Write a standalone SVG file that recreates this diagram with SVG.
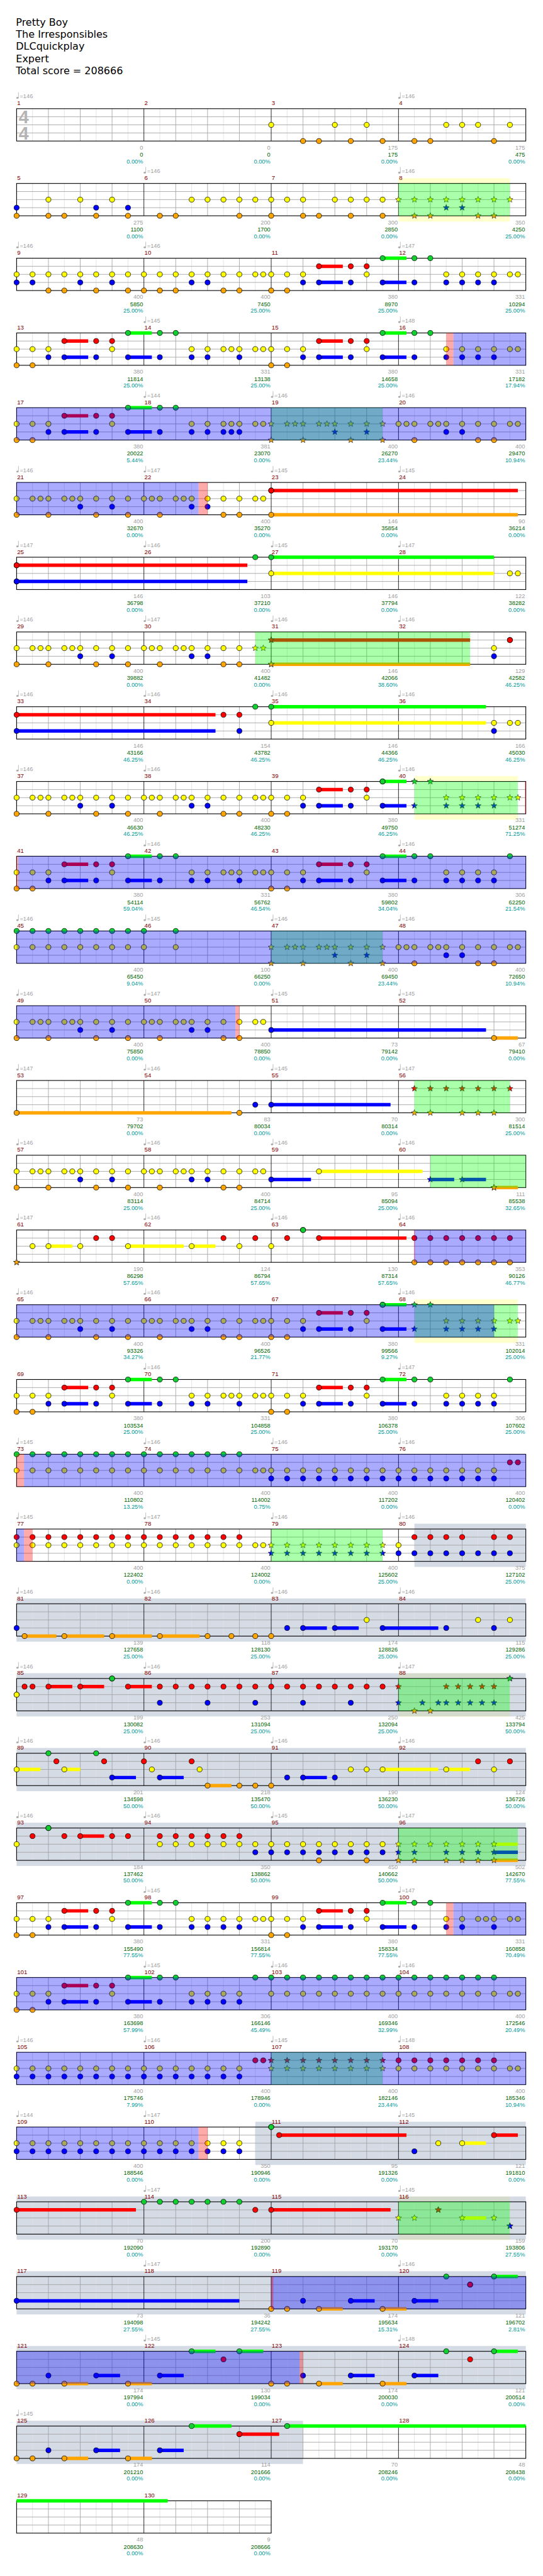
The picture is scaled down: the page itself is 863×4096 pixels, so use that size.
<svg xmlns="http://www.w3.org/2000/svg" xmlns:xlink="http://www.w3.org/1999/xlink" width="863" height="4096" viewBox="0 0 863 4096">
<style>
.n{fill:none;stroke:none}
.nG{marker-start:url(#mG);marker-mid:url(#mG);marker-end:url(#mG)}
.nR{marker-start:url(#mR);marker-mid:url(#mR);marker-end:url(#mR)}
.nY{marker-start:url(#mY);marker-mid:url(#mY);marker-end:url(#mY)}
.nB{marker-start:url(#mB);marker-mid:url(#mB);marker-end:url(#mB)}
.nO{marker-start:url(#mO);marker-mid:url(#mO);marker-end:url(#mO)}
.nGs{marker-start:url(#sGs);marker-mid:url(#sGs);marker-end:url(#sGs)}
.nRs{marker-start:url(#sRs);marker-mid:url(#sRs);marker-end:url(#sRs)}
.nYs{marker-start:url(#sYs);marker-mid:url(#sYs);marker-end:url(#sYs)}
.nBs{marker-start:url(#sBs);marker-mid:url(#sBs);marker-end:url(#sBs)}
.nOs{marker-start:url(#sOs);marker-mid:url(#sOs);marker-end:url(#sOs)}
.sG,.sR,.sY,.sB,.sO{fill:none;stroke-width:6.5}
.sG{stroke:#00ff00}.sR{stroke:#ff0000}.sY{stroke:#ffff00}.sB{stroke:#0000ff}.sO{stroke:#ffa500}
.og{fill:#00ff00;fill-opacity:.333}.ob{fill:#0000ff;fill-opacity:.333}.op{fill:#ff0000;fill-opacity:.333}
.by{fill:#ffffcc}.bg{fill:#aab7cc;fill-opacity:.5}
.mn{fill:#800000;font-size:11.5px}
.tp{fill:#a0a0a0}
.s1{fill:#a0a0a0;text-anchor:end}
.s2{fill:#006400;text-anchor:end}
.s3{fill:#009999;text-anchor:end}
.hd{font-family:"DejaVu Sans",Verdana,sans-serif;font-size:19px;fill:#000}
.ts{font-size:34px;font-weight:bold;fill:#b4b4b4}
</style>
<defs>
<marker id="mG" markerUnits="userSpaceOnUse" markerWidth="14" markerHeight="14" viewBox="-7 -7 14 14" overflow="visible"><circle r="4.8" fill="#10d030" stroke="#000" stroke-width=".9"/></marker>
<marker id="mR" markerUnits="userSpaceOnUse" markerWidth="14" markerHeight="14" viewBox="-7 -7 14 14" overflow="visible"><circle r="4.8" fill="#ff0000" stroke="#000" stroke-width=".9"/></marker>
<marker id="mY" markerUnits="userSpaceOnUse" markerWidth="14" markerHeight="14" viewBox="-7 -7 14 14" overflow="visible"><circle r="4.8" fill="#ffff00" stroke="#000" stroke-width=".9"/></marker>
<marker id="mB" markerUnits="userSpaceOnUse" markerWidth="14" markerHeight="14" viewBox="-7 -7 14 14" overflow="visible"><circle r="4.8" fill="#0000ff" stroke="#000" stroke-width=".9"/></marker>
<marker id="mO" markerUnits="userSpaceOnUse" markerWidth="14" markerHeight="14" viewBox="-7 -7 14 14" overflow="visible"><circle r="4.8" fill="#ffa500" stroke="#000" stroke-width=".9"/></marker>
<path id="star" d="M0-6L1.53-2.1L5.71-1.85L2.47.8L3.53 4.85L0 2.6L-3.53 4.85L-2.47.8L-5.71-1.85L-1.53-2.1Z"/>
<marker id="sGs" markerUnits="userSpaceOnUse" markerWidth="14" markerHeight="14" viewBox="-7 -7 14 14" overflow="visible"><use href="#star" fill="#10d030" stroke="#222" stroke-width=".8"/></marker>
<marker id="sRs" markerUnits="userSpaceOnUse" markerWidth="14" markerHeight="14" viewBox="-7 -7 14 14" overflow="visible"><use href="#star" fill="#ff0000" stroke="#222" stroke-width=".8"/></marker>
<marker id="sYs" markerUnits="userSpaceOnUse" markerWidth="14" markerHeight="14" viewBox="-7 -7 14 14" overflow="visible"><use href="#star" fill="#ffff00" stroke="#222" stroke-width=".8"/></marker>
<marker id="sBs" markerUnits="userSpaceOnUse" markerWidth="14" markerHeight="14" viewBox="-7 -7 14 14" overflow="visible"><use href="#star" fill="#0000ff" stroke="#222" stroke-width=".8"/></marker>
<marker id="sOs" markerUnits="userSpaceOnUse" markerWidth="14" markerHeight="14" viewBox="-7 -7 14 14" overflow="visible"><use href="#star" fill="#ffa500" stroke="#222" stroke-width=".8"/></marker>
<rect id="sf" width="960" height="61" fill="#fff"/>
<g id="sg" fill="none">
<path d="M30 0V61M90 0V61M150 0V61M210 0V61M270 0V61M330 0V61M390 0V61M450 0V61M510 0V61M570 0V61M630 0V61M690 0V61M750 0V61M810 0V61M870 0V61M930 0V61" stroke="#e0e0e0"/>
<path d="M60 0V61M120 0V61M180 0V61M300 0V61M360 0V61M420 0V61M540 0V61M600 0V61M660 0V61M780 0V61M840 0V61M900 0V61M0 15.25H960M0 30.5H960M0 45.75H960" stroke="#a0a0a0"/>
<path d="M240 0V61M480 0V61M720 0V61" stroke="#000"/>
<rect width="960" height="61" stroke="#000" stroke-width="1.3"/>
</g>
<rect id="sf2" width="480" height="61" fill="#fff"/>
<g id="sg2" fill="none">
<path d="M30 0V61M90 0V61M150 0V61M210 0V61M270 0V61M330 0V61M390 0V61M450 0V61" stroke="#e0e0e0"/>
<path d="M60 0V61M120 0V61M180 0V61M300 0V61M360 0V61M420 0V61M0 15.25H480M0 30.5H480M0 45.75H480" stroke="#a0a0a0"/>
<path d="M240 0V61" stroke="#000"/>
<rect width="480" height="61" stroke="#000" stroke-width="1.3"/>
</g>
<g id="tn"><ellipse cx="1.6" cy="-20.5" rx="2.2" ry="1.8" fill="#aaa"/><path d="M3.5-20.8V-31" stroke="#aaa" stroke-width=".9"/></g>
</defs>
<g transform="scale(0.843)" font-family="'Liberation Sans',Arial,sans-serif" font-size="11px">
<rect width="1024" height="4858" fill="#fff"/>
<g id="header">
<text class="hd" x="30" y="49">Pretty Boy</text>
<text class="hd" x="30" y="71.7">The Irresponsibles</text>
<text class="hd" x="30" y="94.3">DLCquickplay</text>
<text class="hd" x="30" y="117">Expert</text>
<text class="hd" x="30" y="139.7">Total score = 208666</text>
</g>

<g id="row1" transform="translate(31.3,205)">
<use href="#sf"/><use href="#sg"/>
<text class="ts" x="4" y="27.7">4</text><text class="ts" x="4" y="58">4</text>
<path class="n nY" d="M480 30.5H600H660H810H840H870H930"/>
<path class="n nO" d="M540 61H570H630H690H750H780H900"/>
<use href="#tn"/><use href="#tn" x="720"/>
<text class="tp" y="-19.5"><tspan x="6">=146</tspan><tspan x="726">=146</tspan></text>
<text class="mn" y="-6.5"><tspan x="1">1</tspan><tspan x="241">2</tspan><tspan x="481">3</tspan><tspan x="721">4</tspan></text>
<text class="s1" y="77"><tspan x="238.5">0</tspan><tspan x="478.5">0</tspan><tspan x="718.5">175</tspan><tspan x="958.5">175</tspan></text>
<text class="s2" y="90.3"><tspan x="238.5">0</tspan><tspan x="478.5">0</tspan><tspan x="718.5">175</tspan><tspan x="958.5">475</tspan></text>
<text class="s3" y="103"><tspan x="238.5">0.00%</tspan><tspan x="478.5">0.00%</tspan><tspan x="718.5">0.00%</tspan><tspan x="958.5">0.00%</tspan></text>
</g>

<g id="row2" transform="translate(31.3,346)">
<rect class="by" x="720" y="-10" width="210" height="82"/>
<use href="#sf"/><use href="#sg"/>
<path class="n nY" d="M60 30.5H120H180H330H360H390H420H450H480H510H540H600H630H660H690"/>
<path class="n nYs" d="M720 30.5H750H780H810H840H870H900H930"/>
<path class="n nB" d="M0 45.75H150H210"/>
<path class="n nBs" d="M810 45.75H840"/>
<path class="n nO" d="M0 61H60H90H150H210H270H300H420H480H540H570H630H690"/>
<path class="n nOs" d="M750 61H780H870H900"/>
<rect class="og" x="720" width="210" height="61"/>
<use href="#tn" x="240"/><use href="#tn" x="720"/>
<text class="tp" y="-19.5"><tspan x="246">=146</tspan><tspan x="726">=146</tspan></text>
<text class="mn" y="-6.5"><tspan x="1">5</tspan><tspan x="241">6</tspan><tspan x="481">7</tspan><tspan x="721">8</tspan></text>
<text class="s1" y="77"><tspan x="238.5">275</tspan><tspan x="478.5">200</tspan><tspan x="718.5">300</tspan><tspan x="958.5">350</tspan></text>
<text class="s2" y="90.3"><tspan x="238.5">1100</tspan><tspan x="478.5">1700</tspan><tspan x="718.5">2850</tspan><tspan x="958.5">4250</tspan></text>
<text class="s3" y="103"><tspan x="238.5">0.00%</tspan><tspan x="478.5">0.00%</tspan><tspan x="718.5">0.00%</tspan><tspan x="958.5">25.00%</tspan></text>
</g>

<g id="row3" transform="translate(31.3,487)">
<use href="#sf"/><use href="#sg"/>
<path class="sG" d="M690 0H735"/><path class="sR" d="M570 15.25H615"/><path class="sB" d="M570 45.75H615M690 45.75H735"/>
<path class="n nG" d="M690 0H750H780"/>
<path class="n nR" d="M570 15.25H630H660"/>
<path class="n nY" d="M0 30.5H30H60H90H120H150H180H210H240H270H300H330H360H390H420H450H465H480H510H540H660H810H840H870H900H930H945"/>
<path class="n nB" d="M0 45.75H30H120H180H330H360H540H570H630H690H750H810H840H870H900"/>
<path class="n nO" d="M60 61H90H150H210H240H270H300H390H420H480H510"/>
<use href="#tn"/><use href="#tn" x="240"/><use href="#tn" x="720"/>
<text class="tp" y="-19.5"><tspan x="6">=146</tspan><tspan x="246">=146</tspan><tspan x="726">=147</tspan></text>
<text class="mn" y="-6.5"><tspan x="1">9</tspan><tspan x="241">10</tspan><tspan x="481">11</tspan><tspan x="721">12</tspan></text>
<text class="s1" y="77"><tspan x="238.5">400</tspan><tspan x="478.5">400</tspan><tspan x="718.5">380</tspan><tspan x="958.5">331</tspan></text>
<text class="s2" y="90.3"><tspan x="238.5">5850</tspan><tspan x="478.5">7450</tspan><tspan x="718.5">8970</tspan><tspan x="958.5">10294</tspan></text>
<text class="s3" y="103"><tspan x="238.5">25.00%</tspan><tspan x="478.5">25.00%</tspan><tspan x="718.5">25.00%</tspan><tspan x="958.5">25.00%</tspan></text>
</g>

<g id="row4" transform="translate(31.3,628)">
<use href="#sf"/><use href="#sg"/>
<path class="sG" d="M210 0H255M690 0H735"/><path class="sR" d="M90 15.25H135M570 15.25H615"/><path class="sB" d="M90 45.75H135M210 45.75H255M570 45.75H615M690 45.75H735"/>
<path class="n nG" d="M210 0H270H300H690H750H780"/>
<path class="n nR" d="M90 15.25H150H180H570H630H660"/>
<path class="n nY" d="M0 30.5H30H60H180H330H360H390H405H420H450H465H480H510H540H660H810H840H870H900H930H945"/>
<path class="n nB" d="M60 45.75H90H150H210H270H330H360H420H540H570H630H690H750H810H840H870H900"/>
<path class="n nO" d="M0 61H30H480H510"/>
<rect class="op" x="810" width="13.7" height="61"/><rect class="ob" x="823.7" width="136.3" height="61"/>
<use href="#tn" x="240"/><use href="#tn" x="720"/>
<text class="tp" y="-19.5"><tspan x="246">=145</tspan><tspan x="726">=148</tspan></text>
<text class="mn" y="-6.5"><tspan x="1">13</tspan><tspan x="241">14</tspan><tspan x="481">15</tspan><tspan x="721">16</tspan></text>
<text class="s1" y="77"><tspan x="238.5">380</tspan><tspan x="478.5">331</tspan><tspan x="718.5">380</tspan><tspan x="958.5">331</tspan></text>
<text class="s2" y="90.3"><tspan x="238.5">11814</tspan><tspan x="478.5">13138</tspan><tspan x="718.5">14658</tspan><tspan x="958.5">17182</tspan></text>
<text class="s3" y="103"><tspan x="238.5">25.00%</tspan><tspan x="478.5">25.00%</tspan><tspan x="718.5">25.00%</tspan><tspan x="958.5">17.94%</tspan></text>
</g>

<g id="row5" transform="translate(31.3,769)">
<use href="#sf"/><use href="#sg"/>
<path class="sG" d="M210 0H255"/><path class="sR" d="M90 15.25H135"/><path class="sB" d="M90 45.75H135M210 45.75H255"/>
<path class="n nG" d="M210 0H270H300"/>
<path class="n nR" d="M90 15.25H150H180"/>
<path class="n nY" d="M0 30.5H30H60H180H330H360H390H405H420H450H465H720H735H750H780H795H810H840H870H900H930H945"/>
<path class="n nYs" d="M480 30.5H510H525H540H570H585H600H630H660H690"/>
<path class="n nB" d="M60 45.75H90H150H210H270H330H360H390H405H420H810H840"/>
<path class="n nBs" d="M600 45.75H660"/>
<path class="n nO" d="M0 61H30H750H870H900"/>
<path class="n nOs" d="M480 61H540H630H690"/>
<rect class="og" x="480" width="210" height="61"/><rect class="ob" width="960" height="61"/>
<use href="#tn" x="240"/><use href="#tn" x="480"/><use href="#tn" x="720"/>
<text class="tp" y="-19.5"><tspan x="246">=144</tspan><tspan x="486">=146</tspan><tspan x="726">=146</tspan></text>
<text class="mn" y="-6.5"><tspan x="1">17</tspan><tspan x="241">18</tspan><tspan x="481">19</tspan><tspan x="721">20</tspan></text>
<text class="s1" y="77"><tspan x="238.5">380</tspan><tspan x="478.5">381</tspan><tspan x="718.5">400</tspan><tspan x="958.5">400</tspan></text>
<text class="s2" y="90.3"><tspan x="238.5">20022</tspan><tspan x="478.5">23070</tspan><tspan x="718.5">26270</tspan><tspan x="958.5">29470</tspan></text>
<text class="s3" y="103"><tspan x="238.5">5.44%</tspan><tspan x="478.5">0.00%</tspan><tspan x="718.5">23.44%</tspan><tspan x="958.5">10.94%</tspan></text>
</g>

<g id="row6" transform="translate(31.3,910)">
<use href="#sf"/><use href="#sg"/>
<path class="sR" d="M480 15.25H945"/><path class="sO" d="M480 61H945"/>
<path class="n nR" d="M480 15.25h.01"/>
<path class="n nY" d="M0 30.5H30H45H60H90H105H120H150H180H210H240H255H270H300H315H330H360H390H420H450H465"/>
<path class="n nB" d="M120 45.75H180H330H360"/>
<path class="n nO" d="M0 61H60H150H210H270H390H420H480"/>
<rect class="ob" width="343" height="61"/><rect class="op" x="343" width="17" height="61"/>
<use href="#tn"/><use href="#tn" x="240"/><use href="#tn" x="480"/><use href="#tn" x="720"/>
<text class="tp" y="-19.5"><tspan x="6">=146</tspan><tspan x="246">=147</tspan><tspan x="486">=145</tspan><tspan x="726">=145</tspan></text>
<text class="mn" y="-6.5"><tspan x="1">21</tspan><tspan x="241">22</tspan><tspan x="481">23</tspan><tspan x="721">24</tspan></text>
<text class="s1" y="77"><tspan x="238.5">400</tspan><tspan x="478.5">400</tspan><tspan x="718.5">146</tspan><tspan x="958.5">90</tspan></text>
<text class="s2" y="90.3"><tspan x="238.5">32670</tspan><tspan x="478.5">35270</tspan><tspan x="718.5">35854</tspan><tspan x="958.5">36214</tspan></text>
<text class="s3" y="103"><tspan x="238.5">0.00%</tspan><tspan x="478.5">0.00%</tspan><tspan x="718.5">0.00%</tspan><tspan x="958.5">0.00%</tspan></text>
</g>

<g id="row7" transform="translate(31.3,1051)">
<use href="#sf"/><use href="#sg"/>
<path class="sG" d="M480 0H900"/><path class="sR" d="M0 15.25H435"/><path class="sY" d="M480 30.5H900"/><path class="sB" d="M0 45.75H435"/>
<path class="n nG" d="M450 0H480"/>
<path class="n nR" d="M0 15.25h.01"/>
<path class="n nY" d="M480 30.5H930H945"/>
<path class="n nB" d="M0 45.75h.01"/>
<use href="#tn"/><use href="#tn" x="240"/><use href="#tn" x="480"/><use href="#tn" x="720"/>
<text class="tp" y="-19.5"><tspan x="6">=147</tspan><tspan x="246">=146</tspan><tspan x="486">=145</tspan><tspan x="726">=147</tspan></text>
<text class="mn" y="-6.5"><tspan x="1">25</tspan><tspan x="241">26</tspan><tspan x="481">27</tspan><tspan x="721">28</tspan></text>
<text class="s1" y="77"><tspan x="238.5">146</tspan><tspan x="478.5">103</tspan><tspan x="718.5">146</tspan><tspan x="958.5">122</tspan></text>
<text class="s2" y="90.3"><tspan x="238.5">36798</tspan><tspan x="478.5">37210</tspan><tspan x="718.5">37794</tspan><tspan x="958.5">38282</tspan></text>
<text class="s3" y="103"><tspan x="238.5">0.00%</tspan><tspan x="478.5">0.00%</tspan><tspan x="718.5">0.00%</tspan><tspan x="958.5">0.00%</tspan></text>
</g>

<g id="row8" transform="translate(31.3,1192)">
<use href="#sf"/><use href="#sg"/>
<path class="sR" d="M480 15.25H855"/><path class="sO" d="M480 61H855"/>
<path class="n nR" d="M930 15.25h.01"/>
<path class="n nRs" d="M480 15.25h.01"/>
<path class="n nY" d="M0 30.5H30H45H60H90H105H120H150H180H210H240H255H270H300H315H330H360H390H420H900"/>
<path class="n nYs" d="M450 30.5H465"/>
<path class="n nB" d="M120 45.75H180H330H360H900"/>
<path class="n nO" d="M0 61H60H150H210H270H390H420"/>
<path class="n nOs" d="M480 61h.01"/>
<rect class="og" x="450" width="405" height="61"/>
<use href="#tn"/><use href="#tn" x="240"/><use href="#tn" x="480"/><use href="#tn" x="720"/>
<text class="tp" y="-19.5"><tspan x="6">=146</tspan><tspan x="246">=147</tspan><tspan x="486">=146</tspan><tspan x="726">=146</tspan></text>
<text class="mn" y="-6.5"><tspan x="1">29</tspan><tspan x="241">30</tspan><tspan x="481">31</tspan><tspan x="721">32</tspan></text>
<text class="s1" y="77"><tspan x="238.5">400</tspan><tspan x="478.5">400</tspan><tspan x="718.5">146</tspan><tspan x="958.5">129</tspan></text>
<text class="s2" y="90.3"><tspan x="238.5">39882</tspan><tspan x="478.5">41482</tspan><tspan x="718.5">42066</tspan><tspan x="958.5">42582</tspan></text>
<text class="s3" y="103"><tspan x="238.5">0.00%</tspan><tspan x="478.5">0.00%</tspan><tspan x="718.5">38.60%</tspan><tspan x="958.5">46.25%</tspan></text>
</g>

<g id="row9" transform="translate(31.3,1333)">
<use href="#sf"/><use href="#sg"/>
<path class="sG" d="M480 0H885"/><path class="sR" d="M0 15.25H375"/><path class="sY" d="M480 30.5H885"/><path class="sB" d="M0 45.75H375"/>
<path class="n nG" d="M450 0H480"/>
<path class="n nR" d="M0 15.25H390H420"/>
<path class="n nY" d="M480 30.5H900H930H945"/>
<path class="n nB" d="M0 45.75H420H900"/>
<use href="#tn"/><use href="#tn" x="240"/><use href="#tn" x="480"/><use href="#tn" x="720"/>
<text class="tp" y="-19.5"><tspan x="6">=146</tspan><tspan x="246">=146</tspan><tspan x="486">=146</tspan><tspan x="726">=146</tspan></text>
<text class="mn" y="-6.5"><tspan x="1">33</tspan><tspan x="241">34</tspan><tspan x="481">35</tspan><tspan x="721">36</tspan></text>
<text class="s1" y="77"><tspan x="238.5">146</tspan><tspan x="478.5">154</tspan><tspan x="718.5">146</tspan><tspan x="958.5">166</tspan></text>
<text class="s2" y="90.3"><tspan x="238.5">43166</tspan><tspan x="478.5">43782</tspan><tspan x="718.5">44366</tspan><tspan x="958.5">45030</tspan></text>
<text class="s3" y="103"><tspan x="238.5">46.25%</tspan><tspan x="478.5">46.25%</tspan><tspan x="718.5">46.25%</tspan><tspan x="958.5">46.25%</tspan></text>
</g>

<g id="row10" transform="translate(31.3,1474)">
<rect class="by" x="750" y="-10" width="195" height="82"/>
<use href="#sf"/><use href="#sg"/>
<path class="sG" d="M690 0H735"/><path class="sR" d="M570 15.25H615"/><path class="sB" d="M570 45.75H615M690 45.75H735"/>
<path class="n nG" d="M690 0h.01"/><path class="n nGs" d="M750 0H780"/>
<path class="n nR" d="M570 15.25H630H660"/>
<path class="n nY" d="M0 30.5H30H45H60H90H105H120H150H180H210H240H255H270H300H315H330H360H390H420H450H465H480H510H540H660"/>
<path class="n nYs" d="M810 30.5H840H870H900H930H945"/>
<path class="n nB" d="M120 45.75H180H330H360H540H570H630H690"/>
<path class="n nBs" d="M750 45.75H810H840H870H900"/>
<path class="n nO" d="M0 61H60H150H210H270H390H420H480H510"/>
<rect class="og" x="750" width="195" height="61"/><rect class="op" x="958" width="2" height="61"/>
<use href="#tn"/><use href="#tn" x="240"/><use href="#tn" x="720"/>
<text class="tp" y="-19.5"><tspan x="6">=146</tspan><tspan x="246">=146</tspan><tspan x="726">=146</tspan></text>
<text class="mn" y="-6.5"><tspan x="1">37</tspan><tspan x="241">38</tspan><tspan x="481">39</tspan><tspan x="721">40</tspan></text>
<text class="s1" y="77"><tspan x="238.5">400</tspan><tspan x="478.5">400</tspan><tspan x="718.5">380</tspan><tspan x="958.5">331</tspan></text>
<text class="s2" y="90.3"><tspan x="238.5">46630</tspan><tspan x="478.5">48230</tspan><tspan x="718.5">49750</tspan><tspan x="958.5">51274</tspan></text>
<text class="s3" y="103"><tspan x="238.5">46.25%</tspan><tspan x="478.5">46.25%</tspan><tspan x="718.5">46.25%</tspan><tspan x="958.5">71.25%</tspan></text>
</g>

<g id="row11" transform="translate(31.3,1615)">
<use href="#sf"/><use href="#sg"/>
<path class="sG" d="M210 0H255M690 0H735"/><path class="sR" d="M90 15.25H135M570 15.25H615"/><path class="sB" d="M90 45.75H135M210 45.75H255M570 45.75H615M690 45.75H735"/>
<path class="n nG" d="M210 0H270H300H690H750H780H930"/>
<path class="n nR" d="M90 15.25H150H180H570H630H660"/>
<path class="n nY" d="M0 30.5H30H60H180H330H360H390H405H420H450H465H480H510H540H660H810H840H870H900"/>
<path class="n nB" d="M60 45.75H90H150H210H270H330H360H420H540H570H630H690H750H810H840H870H900"/>
<path class="n nO" d="M0 61H30H480H510"/>
<rect class="op" width="3" height="61"/><rect class="ob" x="3" width="957" height="61"/>
<use href="#tn" x="240"/><use href="#tn" x="720"/>
<text class="tp" y="-19.5"><tspan x="246">=146</tspan><tspan x="726">=146</tspan></text>
<text class="mn" y="-6.5"><tspan x="1">41</tspan><tspan x="241">42</tspan><tspan x="481">43</tspan><tspan x="721">44</tspan></text>
<text class="s1" y="77"><tspan x="238.5">380</tspan><tspan x="478.5">331</tspan><tspan x="718.5">380</tspan><tspan x="958.5">306</tspan></text>
<text class="s2" y="90.3"><tspan x="238.5">54114</tspan><tspan x="478.5">56762</tspan><tspan x="718.5">59802</tspan><tspan x="958.5">62250</tspan></text>
<text class="s3" y="103"><tspan x="238.5">59.04%</tspan><tspan x="478.5">46.54%</tspan><tspan x="718.5">34.04%</tspan><tspan x="958.5">21.54%</tspan></text>
</g>

<g id="row12" transform="translate(31.3,1756)">
<use href="#sf"/><use href="#sg"/>
<path class="n nG" d="M0 0H30H60H90H120H150H180H210H240H300"/>
<path class="n nY" d="M0 30.5H30H60H90H120H150H180H210H240H300H720H735H750H780H795H810H840H870H900H930H945"/>
<path class="n nYs" d="M480 30.5H510H525H540H570H585H600H630H660H690"/>
<path class="n nB" d="M810 45.75H840"/>
<path class="n nBs" d="M600 45.75H660"/>
<path class="n nO" d="M750 61H870H900"/>
<path class="n nOs" d="M480 61H540H630H690"/>
<rect class="og" x="480" width="210" height="61"/><rect class="ob" width="960" height="61"/>
<use href="#tn"/><use href="#tn" x="240"/><use href="#tn" x="480"/><use href="#tn" x="720"/>
<text class="tp" y="-19.5"><tspan x="6">=146</tspan><tspan x="246">=145</tspan><tspan x="486">=146</tspan><tspan x="726">=146</tspan></text>
<text class="mn" y="-6.5"><tspan x="1">45</tspan><tspan x="241">46</tspan><tspan x="481">47</tspan><tspan x="721">48</tspan></text>
<text class="s1" y="77"><tspan x="238.5">400</tspan><tspan x="478.5">100</tspan><tspan x="718.5">400</tspan><tspan x="958.5">400</tspan></text>
<text class="s2" y="90.3"><tspan x="238.5">65450</tspan><tspan x="478.5">66250</tspan><tspan x="718.5">69450</tspan><tspan x="958.5">72650</tspan></text>
<text class="s3" y="103"><tspan x="238.5">9.04%</tspan><tspan x="478.5">0.00%</tspan><tspan x="718.5">23.44%</tspan><tspan x="958.5">10.94%</tspan></text>
</g>

<g id="row13" transform="translate(31.3,1897)">
<use href="#sf"/><use href="#sg"/>
<path class="sB" d="M480 45.75H885"/><path class="sO" d="M900 61H945"/>
<path class="n nY" d="M0 30.5H30H45H60H90H105H120H150H180H210H240H255H270H300H315H330H360H390H420H450H465"/>
<path class="n nB" d="M120 45.75H180H330H360H480"/>
<path class="n nO" d="M0 61H60H150H210H270H390H420H900"/>
<rect class="ob" width="412.5" height="61"/><rect class="op" x="412.5" width="7.5" height="61"/>
<use href="#tn"/><use href="#tn" x="240"/><use href="#tn" x="480"/><use href="#tn" x="720"/>
<text class="tp" y="-19.5"><tspan x="6">=146</tspan><tspan x="246">=147</tspan><tspan x="486">=145</tspan><tspan x="726">=145</tspan></text>
<text class="mn" y="-6.5"><tspan x="1">49</tspan><tspan x="241">50</tspan><tspan x="481">51</tspan><tspan x="721">52</tspan></text>
<text class="s1" y="77"><tspan x="238.5">400</tspan><tspan x="478.5">400</tspan><tspan x="718.5">73</tspan><tspan x="958.5">67</tspan></text>
<text class="s2" y="90.3"><tspan x="238.5">75850</tspan><tspan x="478.5">78850</tspan><tspan x="718.5">79142</tspan><tspan x="958.5">79410</tspan></text>
<text class="s3" y="103"><tspan x="238.5">0.00%</tspan><tspan x="478.5">0.00%</tspan><tspan x="718.5">0.00%</tspan><tspan x="958.5">0.00%</tspan></text>
</g>

<g id="row14" transform="translate(31.3,2038)">
<use href="#sf"/><use href="#sg"/>
<path class="sB" d="M480 45.75H705"/><path class="sO" d="M0 61H405"/>
<path class="n nRs" d="M750 15.25H780H810H840H870H900H930"/>
<path class="n nB" d="M450 45.75H480"/>
<path class="n nO" d="M0 61H420"/>
<path class="n nOs" d="M750 61H780H840H870H900"/>
<rect class="og" x="750" width="180" height="61"/>
<use href="#tn"/><use href="#tn" x="240"/><use href="#tn" x="480"/><use href="#tn" x="720"/>
<text class="tp" y="-19.5"><tspan x="6">=147</tspan><tspan x="246">=146</tspan><tspan x="486">=145</tspan><tspan x="726">=147</tspan></text>
<text class="mn" y="-6.5"><tspan x="1">53</tspan><tspan x="241">54</tspan><tspan x="481">55</tspan><tspan x="721">56</tspan></text>
<text class="s1" y="77"><tspan x="238.5">73</tspan><tspan x="478.5">83</tspan><tspan x="718.5">70</tspan><tspan x="958.5">300</tspan></text>
<text class="s2" y="90.3"><tspan x="238.5">79702</tspan><tspan x="478.5">80034</tspan><tspan x="718.5">80314</tspan><tspan x="958.5">81514</tspan></text>
<text class="s3" y="103"><tspan x="238.5">0.00%</tspan><tspan x="478.5">0.00%</tspan><tspan x="718.5">0.00%</tspan><tspan x="958.5">25.00%</tspan></text>
</g>

<g id="row15" transform="translate(31.3,2179)">
<use href="#sf"/><use href="#sg"/>
<path class="sY" d="M570 30.5H765"/><path class="sB" d="M480 45.75H555M780 45.75H825M840 45.75H885"/><path class="sO" d="M900 61H945"/>
<path class="n nY" d="M0 30.5H30H45H60H90H105H120H150H180H210H240H255H270H300H315H330H360H390H420H450H465H570"/>
<path class="n nB" d="M120 45.75H180H330H360H480"/>
<path class="n nBs" d="M780 45.75H840"/>
<path class="n nO" d="M0 61H60H150H210H270H390H420"/>
<path class="n nOs" d="M900 61h.01"/>
<rect class="og" x="780" width="180" height="61"/>
<use href="#tn"/><use href="#tn" x="240"/><use href="#tn" x="480"/><use href="#tn" x="720"/>
<text class="tp" y="-19.5"><tspan x="6">=146</tspan><tspan x="246">=146</tspan><tspan x="486">=146</tspan><tspan x="726">=146</tspan></text>
<text class="mn" y="-6.5"><tspan x="1">57</tspan><tspan x="241">58</tspan><tspan x="481">59</tspan><tspan x="721">60</tspan></text>
<text class="s1" y="77"><tspan x="238.5">400</tspan><tspan x="478.5">400</tspan><tspan x="718.5">95</tspan><tspan x="958.5">111</tspan></text>
<text class="s2" y="90.3"><tspan x="238.5">83114</tspan><tspan x="478.5">84714</tspan><tspan x="718.5">85094</tspan><tspan x="958.5">85538</tspan></text>
<text class="s3" y="103"><tspan x="238.5">25.00%</tspan><tspan x="478.5">25.00%</tspan><tspan x="718.5">25.00%</tspan><tspan x="958.5">32.65%</tspan></text>
</g>

<g id="row16" transform="translate(31.3,2320)">
<use href="#sf"/><use href="#sg"/>
<path class="sR" d="M570 15.25H735"/><path class="sY" d="M60 30.5H105M210 30.5H315M330 30.5H375"/>
<path class="n nG" d="M540 0h.01"/>
<path class="n nR" d="M150 15.25H180H390H450H510H570H750H780H810H840H870H900H930"/>
<path class="n nY" d="M30 30.5H60H120H210H330H420H480"/>
<path class="n nOs" d="M0 61h.01"/>
<path class="n nO" d="M750 61H780H810H840H870H900H930"/>
<rect class="op" x="749" width="2" height="61"/><rect class="ob" x="750" width="210" height="61"/>
<use href="#tn"/><use href="#tn" x="240"/><use href="#tn" x="480"/><use href="#tn" x="720"/>
<text class="tp" y="-19.5"><tspan x="6">=147</tspan><tspan x="246">=146</tspan><tspan x="486">=146</tspan><tspan x="726">=146</tspan></text>
<text class="mn" y="-6.5"><tspan x="1">61</tspan><tspan x="241">62</tspan><tspan x="481">63</tspan><tspan x="721">64</tspan></text>
<text class="s1" y="77"><tspan x="238.5">190</tspan><tspan x="478.5">124</tspan><tspan x="718.5">130</tspan><tspan x="958.5">353</tspan></text>
<text class="s2" y="90.3"><tspan x="238.5">86298</tspan><tspan x="478.5">86794</tspan><tspan x="718.5">87314</tspan><tspan x="958.5">90126</tspan></text>
<text class="s3" y="103"><tspan x="238.5">57.65%</tspan><tspan x="478.5">57.65%</tspan><tspan x="718.5">57.65%</tspan><tspan x="958.5">46.77%</tspan></text>
</g>

<g id="row17" transform="translate(31.3,2461)">
<rect class="by" x="750" y="-10" width="195" height="82"/>
<use href="#sf"/><use href="#sg"/>
<path class="sG" d="M690 0H735"/><path class="sR" d="M570 15.25H615"/><path class="sB" d="M570 45.75H615M690 45.75H735"/>
<path class="n nG" d="M690 0h.01"/><path class="n nGs" d="M750 0H780"/>
<path class="n nR" d="M570 15.25H630H660"/>
<path class="n nY" d="M0 30.5H30H45H60H90H105H120H150H180H210H240H255H270H300H315H330H360H390H420H450H465H480H510H540H660"/>
<path class="n nYs" d="M810 30.5H840H870H900H930H945"/>
<path class="n nB" d="M120 45.75H180H330H360H540H570H630H690"/>
<path class="n nBs" d="M750 45.75H810H840H870H900"/>
<path class="n nO" d="M0 61H60H150H210H270H390H420H480H510"/>
<rect class="og" x="750" width="195" height="61"/><rect class="ob" width="900" height="61"/>
<use href="#tn"/><use href="#tn" x="240"/><use href="#tn" x="720"/>
<text class="tp" y="-19.5"><tspan x="6">=146</tspan><tspan x="246">=146</tspan><tspan x="726">=146</tspan></text>
<text class="mn" y="-6.5"><tspan x="1">65</tspan><tspan x="241">66</tspan><tspan x="481">67</tspan><tspan x="721">68</tspan></text>
<text class="s1" y="77"><tspan x="238.5">400</tspan><tspan x="478.5">400</tspan><tspan x="718.5">380</tspan><tspan x="958.5">331</tspan></text>
<text class="s2" y="90.3"><tspan x="238.5">93326</tspan><tspan x="478.5">96526</tspan><tspan x="718.5">99566</tspan><tspan x="958.5">102014</tspan></text>
<text class="s3" y="103"><tspan x="238.5">34.27%</tspan><tspan x="478.5">21.77%</tspan><tspan x="718.5">9.27%</tspan><tspan x="958.5">25.00%</tspan></text>
</g>

<g id="row18" transform="translate(31.3,2602)">
<use href="#sf"/><use href="#sg"/>
<path class="sG" d="M210 0H255M690 0H735"/><path class="sR" d="M90 15.25H135M570 15.25H615"/><path class="sB" d="M90 45.75H135M210 45.75H255M570 45.75H615M690 45.75H735"/>
<path class="n nG" d="M210 0H270H300H690H750H780H930"/>
<path class="n nR" d="M90 15.25H150H180H570H630H660"/>
<path class="n nY" d="M0 30.5H30H60H180H330H360H390H405H420H450H465H480H510H540H660H810H840H870H900"/>
<path class="n nB" d="M60 45.75H90H150H210H270H330H360H420H540H570H630H690H750H810H840H870H900"/>
<path class="n nO" d="M0 61H30H480H510"/>
<use href="#tn" x="240"/><use href="#tn" x="720"/>
<text class="tp" y="-19.5"><tspan x="246">=146</tspan><tspan x="726">=147</tspan></text>
<text class="mn" y="-6.5"><tspan x="1">69</tspan><tspan x="241">70</tspan><tspan x="481">71</tspan><tspan x="721">72</tspan></text>
<text class="s1" y="77"><tspan x="238.5">380</tspan><tspan x="478.5">331</tspan><tspan x="718.5">380</tspan><tspan x="958.5">306</tspan></text>
<text class="s2" y="90.3"><tspan x="238.5">103534</tspan><tspan x="478.5">104858</tspan><tspan x="718.5">106378</tspan><tspan x="958.5">107602</tspan></text>
<text class="s3" y="103"><tspan x="238.5">25.00%</tspan><tspan x="478.5">25.00%</tspan><tspan x="718.5">25.00%</tspan><tspan x="958.5">25.00%</tspan></text>
</g>

<g id="row19" transform="translate(31.3,2743)">
<use href="#sf"/><use href="#sg"/>
<path class="n nG" d="M0 0H30H60H90H120H150H180H210H240H270H300H330H360H390H420"/>
<path class="n nR" d="M930 15.25H945"/>
<path class="n nY" d="M0 30.5H30H60H90H120H150H180H210H240H270H300H330H360H390H420H450H465H480H510H540H570H600H630H660H690H720H750H780H810H840H870H900"/>
<path class="n nB" d="M480 45.75H510H540H570H600H630H660H690H720H750H780H810H840H870H900"/>
<rect class="op" width="14" height="61"/><rect class="ob" x="14" width="946" height="61"/>
<use href="#tn"/><use href="#tn" x="240"/><use href="#tn" x="480"/><use href="#tn" x="720"/>
<text class="tp" y="-19.5"><tspan x="6">=145</tspan><tspan x="246">=146</tspan><tspan x="486">=146</tspan><tspan x="726">=146</tspan></text>
<text class="mn" y="-6.5"><tspan x="1">73</tspan><tspan x="241">74</tspan><tspan x="481">75</tspan><tspan x="721">76</tspan></text>
<text class="s1" y="77"><tspan x="238.5">400</tspan><tspan x="478.5">400</tspan><tspan x="718.5">400</tspan><tspan x="958.5">400</tspan></text>
<text class="s2" y="90.3"><tspan x="238.5">110802</tspan><tspan x="478.5">114002</tspan><tspan x="718.5">117202</tspan><tspan x="958.5">120402</tspan></text>
<text class="s3" y="103"><tspan x="238.5">13.25%</tspan><tspan x="478.5">0.75%</tspan><tspan x="718.5">0.00%</tspan><tspan x="958.5">0.00%</tspan></text>
</g>

<g id="row20" transform="translate(31.3,2884)">
<use href="#sf"/>
<rect class="bg" x="750" y="-10" width="210" height="81.5"/>
<use href="#sg"/>
<path class="n nR" d="M0 15.25H30H60H90H120H150H180H210H240H270H300H330H360H390H420H750H780H810H840H900H930"/>
<path class="n nY" d="M0 30.5H30H60H90H120H150H180H210H240H270H300H330H360H390H420H450H465H720"/>
<path class="n nYs" d="M480 30.5H510H540H570H600H630H660H690"/>
<path class="n nBs" d="M480 45.75H510H540H570H600H630H660H690"/>
<path class="n nB" d="M720 45.75H750H780H810H840H870H900H930"/>
<rect class="og" x="480" width="210" height="61"/><rect class="ob" width="14" height="61"/><rect class="op" x="14" width="16" height="61"/>
<use href="#tn"/><use href="#tn" x="240"/><use href="#tn" x="480"/><use href="#tn" x="720"/>
<text class="tp" y="-19.5"><tspan x="6">=145</tspan><tspan x="246">=147</tspan><tspan x="486">=146</tspan><tspan x="726">=146</tspan></text>
<text class="mn" y="-6.5"><tspan x="1">77</tspan><tspan x="241">78</tspan><tspan x="481">79</tspan><tspan x="721">80</tspan></text>
<text class="s1" y="77"><tspan x="238.5">400</tspan><tspan x="478.5">400</tspan><tspan x="718.5">400</tspan><tspan x="958.5">375</tspan></text>
<text class="s2" y="90.3"><tspan x="238.5">122402</tspan><tspan x="478.5">124002</tspan><tspan x="718.5">125602</tspan><tspan x="958.5">127102</tspan></text>
<text class="s3" y="103"><tspan x="238.5">0.00%</tspan><tspan x="478.5">0.00%</tspan><tspan x="718.5">25.00%</tspan><tspan x="958.5">25.00%</tspan></text>
</g>

<g id="row21" transform="translate(31.3,3025)">
<use href="#sf"/>
<rect class="bg" y="-10" width="960" height="81.5"/>
<use href="#sg"/>
<path class="sB" d="M540 45.75H585M600 45.75H645M690 45.75H795"/>
<path class="sO" d="M15 61H75M90 61H165M180 61H255M270 61H345"/>
<path class="n nY" d="M660 30.5H870H930"/>
<path class="n nB" d="M0 45.75H510H540H600H690H810H900"/>
<path class="n nO" d="M15 61H90H180H270H360H405H450H480"/>
<use href="#tn"/><use href="#tn" x="240"/><use href="#tn" x="480"/><use href="#tn" x="720"/>
<text class="tp" y="-19.5"><tspan x="6">=146</tspan><tspan x="246">=146</tspan><tspan x="486">=146</tspan><tspan x="726">=146</tspan></text>
<text class="mn" y="-6.5"><tspan x="1">81</tspan><tspan x="241">82</tspan><tspan x="481">83</tspan><tspan x="721">84</tspan></text>
<text class="s1" y="77"><tspan x="238.5">139</tspan><tspan x="478.5">118</tspan><tspan x="718.5">174</tspan><tspan x="958.5">115</tspan></text>
<text class="s2" y="90.3"><tspan x="238.5">127658</tspan><tspan x="478.5">128130</tspan><tspan x="718.5">128826</tspan><tspan x="958.5">129286</tspan></text>
<text class="s3" y="103"><tspan x="238.5">25.00%</tspan><tspan x="478.5">25.00%</tspan><tspan x="718.5">25.00%</tspan><tspan x="958.5">25.00%</tspan></text>
</g>

<g id="row22" transform="translate(31.3,3166)">
<rect class="by" x="720" y="-10" width="210" height="82"/>
<use href="#sf"/>
<rect class="bg" y="-10" width="960" height="81.5"/>
<use href="#sg"/>
<path class="sR" d="M60 15.25H105M120 15.25H165M210 15.25H255"/>
<path class="n nG" d="M180 0h.01"/><path class="n nGs" d="M930 0h.01"/>
<path class="n nR" d="M15 15.25H30H60H120H210H270H300H330H360H390H420H450H480H510H540H570H600H630H660H690"/>
<path class="n nRs" d="M720 15.25H810H832.5H855H877.5H900"/>
<path class="n nY" d="M0 30.5h.01"/>
<path class="n nB" d="M270 45.75H360H450H540H630"/>
<path class="n nBs" d="M720 45.75H765H795H810H832.5H855H877.5H900"/>
<path class="n nOs" d="M750 61H780"/>
<rect class="og" x="720" width="210" height="61"/>
<use href="#tn"/><use href="#tn" x="240"/><use href="#tn" x="480"/><use href="#tn" x="720"/>
<text class="tp" y="-19.5"><tspan x="6">=146</tspan><tspan x="246">=146</tspan><tspan x="486">=146</tspan><tspan x="726">=147</tspan></text>
<text class="mn" y="-6.5"><tspan x="1">85</tspan><tspan x="241">86</tspan><tspan x="481">87</tspan><tspan x="721">88</tspan></text>
<text class="s1" y="77"><tspan x="238.5">199</tspan><tspan x="478.5">253</tspan><tspan x="718.5">250</tspan><tspan x="958.5">425</tspan></text>
<text class="s2" y="90.3"><tspan x="238.5">130082</tspan><tspan x="478.5">131094</tspan><tspan x="718.5">132094</tspan><tspan x="958.5">133794</tspan></text>
<text class="s3" y="103"><tspan x="238.5">25.00%</tspan><tspan x="478.5">25.00%</tspan><tspan x="718.5">25.00%</tspan><tspan x="958.5">50.00%</tspan></text>
</g>

<g id="row23" transform="translate(31.3,3307)">
<use href="#sf"/>
<rect class="bg" y="-10" width="960" height="81.5"/>
<use href="#sg"/>
<path class="sY" d="M0 30.5H45M90 30.5H120M690 30.5H795M810 30.5H855"/>
<path class="sB" d="M180 45.75H225M270 45.75H315M540 45.75H585"/>
<path class="sO" d="M360 61H405"/>
<path class="n nG" d="M60 0H150"/>
<path class="n nR" d="M75 15.25H165H240H330H870H930"/>
<path class="n nY" d="M0 30.5H90H255H345H630H660H690H810H900"/>
<path class="n nB" d="M180 45.75H270H510H540H600"/>
<path class="n nO" d="M360 61H420H450H480"/>
<use href="#tn"/><use href="#tn" x="240"/><use href="#tn" x="480"/><use href="#tn" x="720"/>
<text class="tp" y="-19.5"><tspan x="6">=146</tspan><tspan x="246">=146</tspan><tspan x="486">=146</tspan><tspan x="726">=146</tspan></text>
<text class="mn" y="-6.5"><tspan x="1">89</tspan><tspan x="241">90</tspan><tspan x="481">91</tspan><tspan x="721">92</tspan></text>
<text class="s1" y="77"><tspan x="238.5">201</tspan><tspan x="478.5">218</tspan><tspan x="718.5">190</tspan><tspan x="958.5">124</tspan></text>
<text class="s2" y="90.3"><tspan x="238.5">134598</tspan><tspan x="478.5">135470</tspan><tspan x="718.5">136230</tspan><tspan x="958.5">136726</tspan></text>
<text class="s3" y="103"><tspan x="238.5">50.00%</tspan><tspan x="478.5">50.00%</tspan><tspan x="718.5">50.00%</tspan><tspan x="958.5">50.00%</tspan></text>
</g>

<g id="row24" transform="translate(31.3,3448)">
<use href="#sf"/>
<rect class="bg" y="-10" width="960" height="81.5"/>
<use href="#sg"/>
<path class="sR" d="M120 15.25H165"/><path class="sY" d="M900 30.5H945"/><path class="sB" d="M900 45.75H945"/><path class="sO" d="M900 61H945"/>
<path class="n nG" d="M60 0h.01"/>
<path class="n nR" d="M30 15.25H90H120H180H210H270H300H330H360H390H420"/>
<path class="n nY" d="M0 30.5H270H300H330H360H390H420H450H480H510H540H570H600H630H660H690"/>
<path class="n nYs" d="M720 30.5H750H780H810H840H870H900"/>
<path class="n nB" d="M450 45.75H480H510H540H570H600H630H660H690"/>
<path class="n nBs" d="M720 45.75H750H810H840H870H900"/>
<path class="n nO" d="M570 61H660"/>
<path class="n nOs" d="M720 61H750H810H840H870H900"/>
<rect class="og" x="720" width="225" height="61"/>
<use href="#tn"/><use href="#tn" x="240"/><use href="#tn" x="480"/><use href="#tn" x="720"/>
<text class="tp" y="-19.5"><tspan x="6">=146</tspan><tspan x="246">=146</tspan><tspan x="486">=145</tspan><tspan x="726">=147</tspan></text>
<text class="mn" y="-6.5"><tspan x="1">93</tspan><tspan x="241">94</tspan><tspan x="481">95</tspan><tspan x="721">96</tspan></text>
<text class="s1" y="77"><tspan x="238.5">184</tspan><tspan x="478.5">350</tspan><tspan x="718.5">450</tspan><tspan x="958.5">502</tspan></text>
<text class="s2" y="90.3"><tspan x="238.5">137462</tspan><tspan x="478.5">138862</tspan><tspan x="718.5">140662</tspan><tspan x="958.5">142670</tspan></text>
<text class="s3" y="103"><tspan x="238.5">50.00%</tspan><tspan x="478.5">50.00%</tspan><tspan x="718.5">50.00%</tspan><tspan x="958.5">77.55%</tspan></text>
</g>

<g id="row25" transform="translate(31.3,3589)">
<use href="#sf"/><use href="#sg"/>
<path class="sG" d="M210 0H255M690 0H735"/><path class="sR" d="M90 15.25H135M570 15.25H615"/><path class="sB" d="M90 45.75H135M210 45.75H255M570 45.75H615M690 45.75H735"/>
<path class="n nG" d="M210 0H270H300H690H750H780"/>
<path class="n nR" d="M90 15.25H150H180H570H630H660"/>
<path class="n nY" d="M0 30.5H30H60H180H330H360H390H420H450H465H480H510H540H660H810H840H870H885H900H930H945"/>
<path class="n nB" d="M60 45.75H90H150H210H270H330H360H390H420H540H570H630H690H750H810H840H900"/>
<path class="n nO" d="M0 61H30H480H510"/>
<rect class="op" x="810" width="13.7" height="61"/><rect class="ob" x="823.7" width="136.3" height="61"/>
<use href="#tn" x="240"/><use href="#tn" x="720"/>
<text class="tp" y="-19.5"><tspan x="246">=145</tspan><tspan x="726">=147</tspan></text>
<text class="mn" y="-6.5"><tspan x="1">97</tspan><tspan x="241">98</tspan><tspan x="481">99</tspan><tspan x="721">100</tspan></text>
<text class="s1" y="77"><tspan x="238.5">380</tspan><tspan x="478.5">331</tspan><tspan x="718.5">380</tspan><tspan x="958.5">331</tspan></text>
<text class="s2" y="90.3"><tspan x="238.5">155490</tspan><tspan x="478.5">156814</tspan><tspan x="718.5">158334</tspan><tspan x="958.5">160858</tspan></text>
<text class="s3" y="103"><tspan x="238.5">77.55%</tspan><tspan x="478.5">77.55%</tspan><tspan x="718.5">77.55%</tspan><tspan x="958.5">70.49%</tspan></text>
</g>

<g id="row26" transform="translate(31.3,3730)">
<use href="#sf"/><use href="#sg"/>
<path class="sG" d="M210 0H255"/><path class="sR" d="M90 15.25H135"/><path class="sB" d="M90 45.75H135M210 45.75H255"/>
<path class="n nG" d="M210 0H270H300H450H480H510H540H570H600H630H660H690H720H750H780H810H840H870H900"/>
<path class="n nR" d="M90 15.25H150H180"/>
<path class="n nY" d="M0 30.5H30H60H180H330H360H390H420H480H510H540H570H600H630H660H690H720H750H780H810H840H870H900H930H945"/>
<path class="n nB" d="M60 45.75H90H150H210H270H330H360H390H420"/>
<path class="n nO" d="M0 61H30"/>
<rect class="ob" width="960" height="61"/>
<use href="#tn" x="240"/><use href="#tn" x="480"/><use href="#tn" x="720"/>
<text class="tp" y="-19.5"><tspan x="246">=145</tspan><tspan x="486">=146</tspan><tspan x="726">=146</tspan></text>
<text class="mn" y="-6.5"><tspan x="1">101</tspan><tspan x="241">102</tspan><tspan x="481">103</tspan><tspan x="721">104</tspan></text>
<text class="s1" y="77"><tspan x="238.5">380</tspan><tspan x="478.5">306</tspan><tspan x="718.5">400</tspan><tspan x="958.5">400</tspan></text>
<text class="s2" y="90.3"><tspan x="238.5">163698</tspan><tspan x="478.5">166146</tspan><tspan x="718.5">169346</tspan><tspan x="958.5">172546</tspan></text>
<text class="s3" y="103"><tspan x="238.5">57.99%</tspan><tspan x="478.5">45.49%</tspan><tspan x="718.5">32.99%</tspan><tspan x="958.5">20.49%</tspan></text>
</g>

<g id="row27" transform="translate(31.3,3871)">
<use href="#sf"/><use href="#sg"/>
<path class="n nR" d="M450 15.25H465H720H750H780H810H840H870H900"/>
<path class="n nRs" d="M480 15.25H510H540H570H600H630H660H690"/>
<path class="n nY" d="M0 30.5H30H60H90H120H150H180H210H240H270H300H330H360H390H420H720H750H780H810H840H870H900H930H945"/>
<path class="n nYs" d="M480 30.5H510H540H570H600H630H660H690"/>
<path class="n nB" d="M0 45.75H30H60H90H120H150H180H210H240H270H300H330H360H390H420"/>
<rect class="og" x="480" width="210" height="61"/><rect class="ob" width="960" height="61"/>
<use href="#tn"/><use href="#tn" x="240"/><use href="#tn" x="480"/><use href="#tn" x="720"/>
<text class="tp" y="-19.5"><tspan x="6">=146</tspan><tspan x="246">=146</tspan><tspan x="486">=145</tspan><tspan x="726">=148</tspan></text>
<text class="mn" y="-6.5"><tspan x="1">105</tspan><tspan x="241">106</tspan><tspan x="481">107</tspan><tspan x="721">108</tspan></text>
<text class="s1" y="77"><tspan x="238.5">400</tspan><tspan x="478.5">400</tspan><tspan x="718.5">400</tspan><tspan x="958.5">400</tspan></text>
<text class="s2" y="90.3"><tspan x="238.5">175746</tspan><tspan x="478.5">178946</tspan><tspan x="718.5">182146</tspan><tspan x="958.5">185346</tspan></text>
<text class="s3" y="103"><tspan x="238.5">7.99%</tspan><tspan x="478.5">0.00%</tspan><tspan x="718.5">23.44%</tspan><tspan x="958.5">10.94%</tspan></text>
</g>

<g id="row28" transform="translate(31.3,4012)">
<use href="#sf"/>
<rect class="bg" x="450" y="-10" width="510" height="81.5"/>
<use href="#sg"/>
<path class="sR" d="M495 15.25H735M900 15.25H945"/><path class="sY" d="M840 30.5H885"/>
<path class="n nG" d="M480 0h.01"/>
<path class="n nR" d="M495 15.25H900"/>
<path class="n nY" d="M0 30.5H30H60H90H120H150H180H210H240H270H300H330H360H390H420H795H840"/>
<path class="n nB" d="M0 45.75H30H60H90H120H150H180H210H240H270H300H330H360H390H420H750"/>
<rect class="ob" width="343" height="61"/><rect class="op" x="343" width="17" height="61"/>
<use href="#tn"/><use href="#tn" x="240"/><use href="#tn" x="720"/>
<text class="tp" y="-19.5"><tspan x="6">=144</tspan><tspan x="246">=147</tspan><tspan x="726">=145</tspan></text>
<text class="mn" y="-6.5"><tspan x="1">109</tspan><tspan x="241">110</tspan><tspan x="481">111</tspan><tspan x="721">112</tspan></text>
<text class="s1" y="77"><tspan x="238.5">400</tspan><tspan x="478.5">350</tspan><tspan x="718.5">95</tspan><tspan x="958.5">121</tspan></text>
<text class="s2" y="90.3"><tspan x="238.5">188546</tspan><tspan x="478.5">190946</tspan><tspan x="718.5">191326</tspan><tspan x="958.5">191810</tspan></text>
<text class="s3" y="103"><tspan x="238.5">0.00%</tspan><tspan x="478.5">0.00%</tspan><tspan x="718.5">0.00%</tspan><tspan x="958.5">0.00%</tspan></text>
</g>

<g id="row29" transform="translate(31.3,4153)">
<rect class="by" x="720" y="-10" width="210" height="82"/>
<use href="#sf"/>
<rect class="bg" y="-10" width="960" height="81.5"/>
<use href="#sg"/>
<path class="sR" d="M0 15.25H225M480 15.25H705"/><path class="sY" d="M840 30.5H885"/>
<path class="n nG" d="M240 0H270H300H330H360H390H420"/>
<path class="n nR" d="M0 15.25H450H480"/>
<path class="n nRs" d="M795 15.25h.01"/>
<path class="n nYs" d="M720 30.5H750H840H900"/>
<path class="n nBs" d="M930 45.75h.01"/>
<rect class="og" x="720" width="210" height="61"/>
<use href="#tn" x="240"/><use href="#tn" x="720"/>
<text class="tp" y="-19.5"><tspan x="246">=147</tspan><tspan x="726">=145</tspan></text>
<text class="mn" y="-6.5"><tspan x="1">113</tspan><tspan x="241">114</tspan><tspan x="481">115</tspan><tspan x="721">116</tspan></text>
<text class="s1" y="77"><tspan x="238.5">70</tspan><tspan x="478.5">200</tspan><tspan x="718.5">70</tspan><tspan x="958.5">159</tspan></text>
<text class="s2" y="90.3"><tspan x="238.5">192090</tspan><tspan x="478.5">192890</tspan><tspan x="718.5">193170</tspan><tspan x="958.5">193806</tspan></text>
<text class="s3" y="103"><tspan x="238.5">0.00%</tspan><tspan x="478.5">0.00%</tspan><tspan x="718.5">0.00%</tspan><tspan x="958.5">27.55%</tspan></text>
</g>

<g id="row30" transform="translate(31.3,4294)">
<use href="#sf"/>
<rect class="bg" y="-10" width="960" height="81.5"/>
<use href="#sg"/>
<path class="sG" d="M900 0H945"/><path class="sB" d="M0 45.75H420M630 45.75H675M750 45.75H795"/><path class="sO" d="M570 61H615M690 61H735"/>
<path class="n nG" d="M810 0H900"/>
<path class="n nR" d="M855 15.25h.01"/>
<path class="n nB" d="M0 45.75H540H630H750"/>
<path class="n nO" d="M480 61H510H570H690"/>
<rect class="ob" x="480" width="480" height="61"/><rect class="op" x="480" width="4" height="61"/>
<use href="#tn" x="240"/><use href="#tn" x="720"/>
<text class="tp" y="-19.5"><tspan x="246">=147</tspan><tspan x="726">=146</tspan></text>
<text class="mn" y="-6.5"><tspan x="1">117</tspan><tspan x="241">118</tspan><tspan x="481">119</tspan><tspan x="721">120</tspan></text>
<text class="s1" y="77"><tspan x="238.5">73</tspan><tspan x="478.5">36</tspan><tspan x="718.5">174</tspan><tspan x="958.5">121</tspan></text>
<text class="s2" y="90.3"><tspan x="238.5">194098</tspan><tspan x="478.5">194242</tspan><tspan x="718.5">195634</tspan><tspan x="958.5">196702</tspan></text>
<text class="s3" y="103"><tspan x="238.5">27.55%</tspan><tspan x="478.5">27.55%</tspan><tspan x="718.5">15.31%</tspan><tspan x="958.5">2.81%</tspan></text>
</g>

<g id="row31" transform="translate(31.3,4435)">
<use href="#sf"/>
<rect class="bg" y="-10" width="960" height="81.5"/>
<use href="#sg"/>
<path class="sG" d="M330 0H375M420 0H465M900 0H945"/>
<path class="sB" d="M150 45.75H195M270 45.75H315M630 45.75H675M750 45.75H795"/>
<path class="sO" d="M90 61H135M210 61H255M570 61H615M690 61H735"/>
<path class="n nG" d="M330 0H420H810H900"/>
<path class="n nR" d="M390 15.25H855"/>
<path class="n nB" d="M60 45.75H150H270H540H630H750"/>
<path class="n nO" d="M0 61H30H90H210H480H510H570H690"/>
<rect class="ob" width="533.6" height="61"/><rect class="op" x="533.6" width="6.4" height="61"/>
<use href="#tn" x="240"/><use href="#tn" x="720"/>
<text class="tp" y="-19.5"><tspan x="246">=145</tspan><tspan x="726">=148</tspan></text>
<text class="mn" y="-6.5"><tspan x="1">121</tspan><tspan x="241">122</tspan><tspan x="481">123</tspan><tspan x="721">124</tspan></text>
<text class="s1" y="77"><tspan x="238.5">174</tspan><tspan x="478.5">130</tspan><tspan x="718.5">174</tspan><tspan x="958.5">121</tspan></text>
<text class="s2" y="90.3"><tspan x="238.5">197994</tspan><tspan x="478.5">199034</tspan><tspan x="718.5">200030</tspan><tspan x="958.5">200514</tspan></text>
<text class="s3" y="103"><tspan x="238.5">0.00%</tspan><tspan x="478.5">0.00%</tspan><tspan x="718.5">0.00%</tspan><tspan x="958.5">0.00%</tspan></text>
</g>

<g id="row32" transform="translate(31.3,4576)">
<use href="#sf"/>
<rect class="bg" y="-10" width="540" height="81.5"/>
<use href="#sg"/>
<path class="sG" d="M330 0H405M510 0H960"/><path class="sR" d="M420 15.25H495"/>
<path class="sB" d="M150 45.75H195M270 45.75H315"/><path class="sO" d="M90 61H135M210 61H255"/>
<path class="n nG" d="M330 0H510"/>
<path class="n nR" d="M420 15.25h.01"/>
<path class="n nB" d="M60 45.75H150H270"/>
<path class="n nO" d="M0 61H30H90H210"/>
<use href="#tn"/>
<text class="tp" y="-19.5"><tspan x="6">=145</tspan></text>
<text class="mn" y="-6.5"><tspan x="1">125</tspan><tspan x="241">126</tspan><tspan x="481">127</tspan><tspan x="721">128</tspan></text>
<text class="s1" y="77"><tspan x="238.5">174</tspan><tspan x="478.5">114</tspan><tspan x="718.5">70</tspan><tspan x="958.5">48</tspan></text>
<text class="s2" y="90.3"><tspan x="238.5">201210</tspan><tspan x="478.5">201666</tspan><tspan x="718.5">208246</tspan><tspan x="958.5">208438</tspan></text>
<text class="s3" y="103"><tspan x="238.5">0.00%</tspan><tspan x="478.5">0.00%</tspan><tspan x="718.5">0.00%</tspan><tspan x="958.5">0.00%</tspan></text>
</g>

<g id="row33" transform="translate(31.3,4717)">
<use href="#sf2"/><use href="#sg2"/>
<path class="sG" d="M0 0H285"/>
<text class="mn" y="-6.5"><tspan x="1">129</tspan><tspan x="241">130</tspan></text>
<text class="s1" y="77"><tspan x="238.5">48</tspan><tspan x="478.5">9</tspan></text>
<text class="s2" y="90.3"><tspan x="238.5">208630</tspan><tspan x="478.5">208666</tspan></text>
<text class="s3" y="103"><tspan x="238.5">0.00%</tspan><tspan x="478.5">0.00%</tspan></text>
</g>
</g>
</svg>
